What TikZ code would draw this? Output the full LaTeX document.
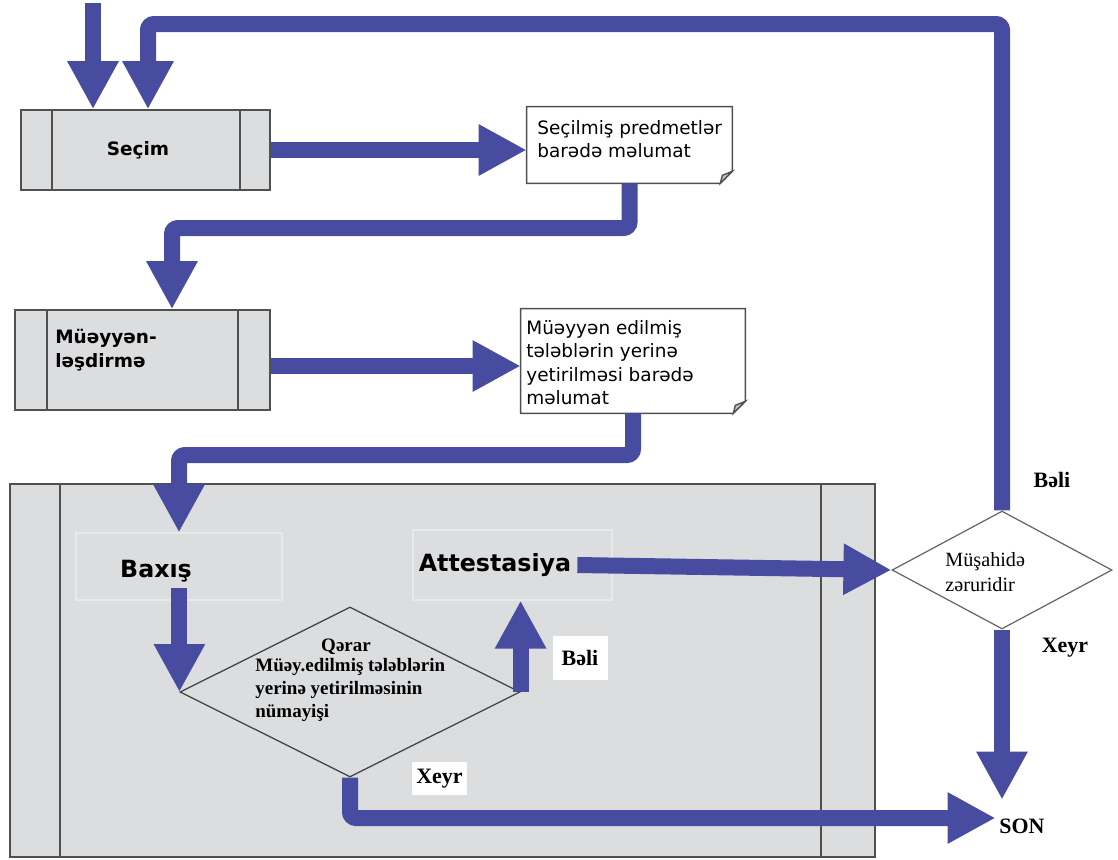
\documentclass[tikz,border=0pt]{standalone}
\usepackage{fontspec}
\setmainfont{Liberation Serif}
\newfontfamily\vsans{DejaVu Sans}
\usetikzlibrary{arrows.meta,shapes.geometric}
\definecolor{flowblue}{HTML}{474CA0}
\definecolor{boxgray}{HTML}{DCDDDF}
\definecolor{edgegray}{HTML}{505050}
\definecolor{faintgray}{HTML}{E8E9EB}
\begin{document}
\begin{tikzpicture}[x=0.02cm,y=-0.02cm,
  flow/.style={draw=flowblue, line width=0.32cm, rounded corners=0.12cm,
    -{Triangle[width=0.96cm,length=0.96cm]}},
  procbox/.style={draw=edgegray, line width=0.9pt, fill=boxgray, inner sep=0},
  docline/.style={draw=edgegray, line width=0.8pt, fill=white},
  faintbox/.style={draw=faintgray, line width=0.6pt, inner sep=0},
  decision/.style={diamond, draw=black!75, line width=0.7pt, inner sep=0},
  doctext/.style={font=\vsans\fontsize{10.5}{13.3}\selectfont, align=left, inner sep=0},
  boldsans/.style={font=\vsans\bfseries\fontsize{10.5}{14}\selectfont, align=left, inner sep=0},
  bigsans/.style={font=\vsans\bfseries\fontsize{13.5}{16}\selectfont},
  lbl/.style={font=\bfseries\fontsize{12.5}{15}\selectfont},
  whitelbl/.style={fill=white, draw=none, inner sep=0, minimum width=1.1cm}
]
\useasboundingbox (0,0) rectangle (1118,859);

% big process box
\node[procbox, minimum width=17.3cm, minimum height=7.46cm] (big) at (442.5,670.5) {};
\draw[edgegray, line width=0.9pt] (60,484) -- (60,857) (821,484) -- (821,857);

% Secim
\node[procbox, minimum width=4.98cm, minimum height=1.6cm] (secim) at (145.5,150) {};
\draw[edgegray, line width=0.9pt] (52,110) -- (52,190) (240,110) -- (240,190);
\node[boldsans] (secimtxt) at (138,150) {Seçim};

% Mueyyenlesdirme
\node[procbox, minimum width=5.1cm, minimum height=2cm] (mue) at (142.5,360) {};
\draw[edgegray, line width=0.9pt] (47,310) -- (47,410) (238,310) -- (238,410);
\node[boldsans, anchor=west] (muetxt) at (55,350) {Müəyyən-\\ləşdirmə};

% document 1
\node[minimum width=4.1cm, minimum height=1.52cm, inner sep=0] (doc1) at (629.5,145) {};
\draw[docline] (doc1.north west) -- (doc1.north east) -- ([yshift=0.24cm]doc1.south east)
  -- ([xshift=-0.24cm]doc1.south east) -- (doc1.south west) -- cycle;
\draw[docline, fill=gray!45] ([yshift=0.24cm]doc1.south east) -- ([xshift=-0.2cm,yshift=0.16cm]doc1.south east)
  -- ([xshift=-0.24cm]doc1.south east) -- cycle;
\node[doctext, anchor=north west] (doc1txt) at (537,120) {Seçilmiş predmetlər\\barədə məlumat};

% document 2
\node[minimum width=4.48cm, minimum height=2.08cm, inner sep=0] (doc2) at (633,361) {};
\draw[docline] (doc2.north west) -- (doc2.north east) -- ([yshift=0.24cm]doc2.south east)
  -- ([xshift=-0.24cm]doc2.south east) -- (doc2.south west) -- cycle;
\draw[docline, fill=gray!45] ([yshift=0.24cm]doc2.south east) -- ([xshift=-0.2cm,yshift=0.16cm]doc2.south east)
  -- ([xshift=-0.24cm]doc2.south east) -- cycle;
\node[doctext, anchor=north west] (doc2txt) at (526,320) {Müəyyən edilmiş\\tələblərin yerinə\\yetirilməsi barədə\\məlumat};

% Baxis and Attestasiya
\node[faintbox, minimum width=4.12cm, minimum height=1.34cm] (baxis) at (179,566.5) {};
\node[bigsans] (baxistxt) at (156,571) {Baxış};
\node[faintbox, minimum width=3.98cm, minimum height=1.4cm] (att) at (512.5,565) {};
\node[bigsans] (atttxt) at (495,565) {Attestasiya};

% Qerar decision
\node[decision, minimum width=6.8cm, minimum height=3.4cm] (qerar) at (350,692) {};
\node[font=\bfseries\fontsize{10.8}{13}\selectfont, inner sep=0] (qtitle) at (346,647) {Qərar};
\node[font=\bfseries\fontsize{10.8}{13}\selectfont, align=left, inner sep=0, anchor=west] (qtext) at (255,690)
  {Müəy.edilmiş tələblərin\\yerinə yetirilməsinin\\nümayişi};

% Musahide decision
\node[decision, fill=white, draw=black!60, minimum width=4.4cm, minimum height=2.36cm] (mus) at (1002,570) {};
\node[font=\fontsize{11.5}{14}\selectfont, align=left, inner sep=0, anchor=west] (mustxt) at (945,572)
  {Müşahidə\\zəruridir};

% labels
\node[whitelbl, lbl, minimum height=0.88cm] (beli1) at (580,658) {\raisebox{-0.12cm}{Bəli}};
\node[whitelbl, lbl, minimum height=0.66cm] (xeyr1) at (439.5,778.5) {Xeyr};
\node[lbl] (beli2) at (1052,480) {Bəli};
\node[lbl] (xeyr2) at (1065,648) {Xeyr};
\node[lbl, inner xsep=2pt, inner ysep=0pt, minimum height=1.04cm] (son) at (1022,826) {SON};

% connectors
\coordinate (in) at (93,3);
\draw[flow] (in) -- (in |- secim.north);
\coordinate (ret) at (148,24);
\draw[flow] (mus.north) |- (ret) -- (ret |- secim.north);
\draw[flow] (secim.east) -- (secim.east -| doc1.west);
\coordinate (b1) at (172,228);
\draw[flow] (doc1.south) |- (b1) -- (b1 |- mue.north);
\coordinate (m1) at ([yshift=-0.12cm]mue.east);
\draw[flow] (m1) -- (m1 -| doc2.west);
\coordinate (b2) at (179,455);
\draw[flow] (doc2.south) |- (b2) -- (baxis.north);
\draw[flow] (qerar.west |- baxistxt.south) -- (qerar.west);
\draw[flow] (qerar.east) -- (qerar.east |- att.south);
\draw[flow] (atttxt.east) -- (mus.west);
\draw[flow] (mus.south) -- (mus.south |- son.north);
\coordinate (s1) at ([yshift=0.16cm]son.west);
\draw[flow] (qerar.south) |- (s1);
\end{tikzpicture}
\end{document}
